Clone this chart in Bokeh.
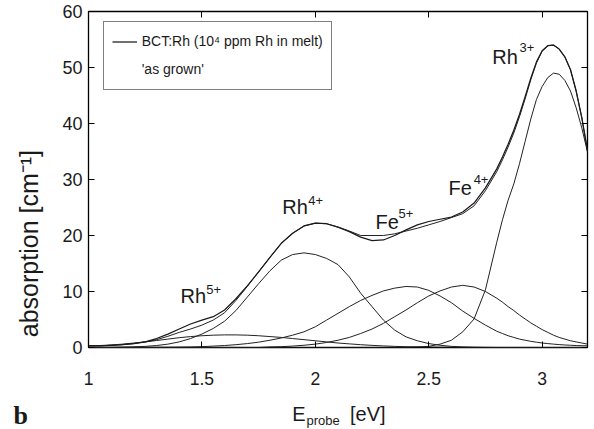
from bokeh.plotting import figure
from bokeh.models import (Range1d, LinearAxis, FixedTicker, Label, Legend,
                          LegendItem, ColumnDataSource, NumeralTickFormatter)
from bokeh.embed import file_html
from bokeh.resources import INLINE

# ---------------- data ----------------
energy = [1.00, 1.05, 1.10, 1.15, 1.20, 1.25, 1.30, 1.35, 1.40, 1.45,
          1.50, 1.55, 1.60, 1.65, 1.70, 1.75, 1.80, 1.85, 1.90, 1.95,
          2.00, 2.05, 2.10, 2.15, 2.20, 2.25, 2.30, 2.35, 2.40, 2.45,
          2.50, 2.55, 2.60, 2.65, 2.70, 2.75, 2.80,
          2.825, 2.85, 2.875, 2.90, 2.925, 2.95, 2.975, 3.00, 3.025,
          3.05, 3.075, 3.10, 3.125, 3.15, 3.175, 3.20]

measured = [0.3, 0.3, 0.4, 0.5, 0.7, 1.0, 1.6, 2.4, 3.3, 4.2,
            4.9, 5.5, 6.7, 8.7, 11.0, 13.5, 16.1, 18.6, 20.4, 21.7,
            22.2, 22.1, 21.5, 20.7, 19.7, 19.1, 19.2, 20.0, 21.0, 21.9,
            22.5, 22.9, 23.3, 24.2, 25.8, 28.5, 31.9,
            34.0, 36.3, 38.8, 41.6, 44.8, 48.1, 51.0, 53.0, 53.9,
            54.0, 53.3, 51.9, 49.6, 45.8, 41.0, 35.2]

fit_total = [0.3, 0.3, 0.4, 0.5, 0.7, 1.0, 1.4, 2.0, 2.7, 3.3,
             4.0, 4.9, 6.2, 8.4, 10.9, 13.5, 16.1, 18.6, 20.4, 21.7,
             22.2, 22.1, 21.5, 20.8, 20.0, 20.0, 20.0, 20.3, 20.8, 21.3,
             21.9, 22.5, 23.2, 23.9, 25.3, 28.0, 31.4,
             33.5, 35.8, 38.3, 41.2, 44.4, 47.8, 50.8, 52.9, 53.9,
             54.0, 53.3, 51.9, 49.6, 45.8, 41.0, 35.0]

rh5 = [0.3, 0.35, 0.45, 0.6, 0.8, 1.0, 1.25, 1.5, 1.75, 1.95,
       2.1, 2.2, 2.25, 2.25, 2.2, 2.1, 1.95, 1.8, 1.6, 1.4,
       1.2, 1.0, 0.8, 0.65, 0.5, 0.38, 0.28, 0.2, 0.14, 0.1,
       0.07, 0.05, 0.03, 0.02, 0.01, 0.0, 0.0,
       0.0, 0.0, 0.0, 0.0, 0.0, 0.0, 0.0, 0.0, 0.0,
       0.0, 0.0, 0.0, 0.0, 0.0, 0.0, 0.0]

rh4 = [0.0, 0.02, 0.05, 0.08, 0.12, 0.2, 0.35, 0.6, 1.0, 1.6,
       2.4, 3.4, 4.7, 6.6, 9.0, 11.4, 13.7, 15.6, 16.6, 16.9,
       16.6, 15.9, 14.8, 12.6, 9.7, 7.3, 4.9, 3.1, 1.9, 1.2,
       0.7, 0.4, 0.2, 0.1, 0.05, 0.02, 0.0,
       0.0, 0.0, 0.0, 0.0, 0.0, 0.0, 0.0, 0.0, 0.0,
       0.0, 0.0, 0.0, 0.0, 0.0, 0.0, 0.0]

fe5 = [0.0, 0.0, 0.0, 0.01, 0.02, 0.03, 0.04, 0.05, 0.07, 0.1,
       0.15, 0.25, 0.35, 0.5, 0.7, 0.95, 1.3, 1.7, 2.2, 2.8,
       3.7, 4.9, 6.1, 7.3, 8.4, 9.3, 10.1, 10.6, 10.9, 10.8,
       10.2, 9.2, 8.0, 6.5, 5.2, 4.0, 2.9,
       2.5, 2.1, 1.8, 1.5, 1.3, 1.1, 0.95, 0.8, 0.7,
       0.6, 0.52, 0.45, 0.4, 0.35, 0.32, 0.3]

fe4 = [0.0, 0.0, 0.0, 0.0, 0.0, 0.0, 0.0, 0.0, 0.0, 0.0,
       0.0, 0.0, 0.0, 0.0, 0.0, 0.0, 0.1, 0.15, 0.25, 0.4,
       0.6, 0.9, 1.3, 1.8, 2.5, 3.3, 4.3, 5.5, 6.7, 8.0,
       9.2, 10.1, 10.8, 11.1, 10.8, 10.0, 8.8,
       8.1, 7.3, 6.6, 5.8, 5.1, 4.4, 3.8, 3.2, 2.7,
       2.2, 1.8, 1.5, 1.2, 1.0, 0.8, 0.6]

rh3 = [0.0, 0.0, 0.0, 0.0, 0.0, 0.0, 0.0, 0.0, 0.0, 0.0,
       0.0, 0.0, 0.0, 0.0, 0.0, 0.0, 0.0, 0.0, 0.0, 0.0,
       0.0, 0.0, 0.0, 0.0, 0.0, 0.0, 0.0, 0.0, 0.0, 0.1,
       0.2, 0.6, 1.3, 2.8, 5.1, 10.3, 18.8,
       22.8, 26.3, 29.2, 32.8, 36.8, 40.8, 44.3, 46.6, 48.2,
       49.0, 48.8, 47.7, 45.8, 42.8, 39.2, 34.9]

x_ticks = [1, 1.5, 2, 2.5, 3]
y_ticks = [0, 10, 20, 30, 40, 50, 60]
legend_text = ["BCT:Rh (10\u2074 ppm Rh in melt)", "'as grown'"]
NB = "\u00a0"
x_label_main = "E" + NB * 8 + "[eV]"
x_label_sub = "probe"
y_label = "absorption [cm\u207b\u00b9]"
panel_letter = "b"

# ---------------- figure ----------------
FONT = "Liberation Sans"
INK = "#1a1a1a"

p = figure(width=592, height=428, output_backend="svg", toolbar_location=None,
           x_range=Range1d(1, 3.2), y_range=Range1d(0, 60),
           min_border_left=88, min_border_right=5, min_border_top=11,
           min_border_bottom=81)
p.xgrid.visible = False
p.ygrid.visible = False
p.outline_line_color = "black"
p.outline_line_width = 1.3
p.background_fill_color = "white"
p.border_fill_color = "white"

for ax in (p.xaxis[0], p.yaxis[0]):
    ax.axis_line_color = None
    ax.major_tick_in = 6
    ax.major_tick_out = 0
    ax.minor_tick_line_color = None
    ax.major_tick_line_color = "black"
    ax.major_label_text_font = FONT
    ax.major_label_text_color = INK

p.xaxis[0].ticker = FixedTicker(ticks=x_ticks)
p.xaxis[0].formatter = NumeralTickFormatter(format="0.[0]")
p.xaxis[0].major_label_standoff = 24
p.xaxis[0].major_label_text_font_size = "17.5px"
p.yaxis[0].ticker = FixedTicker(ticks=y_ticks)
p.yaxis[0].major_label_standoff = 6
p.yaxis[0].major_label_text_font_size = "18px"

top_axis = LinearAxis(ticker=FixedTicker(ticks=x_ticks), major_tick_in=6,
                      major_tick_out=0, axis_line_color=None,
                      minor_tick_line_color=None,
                      major_label_text_font_size="1px",
                      major_label_text_color=None,
                      major_label_standoff=0)
p.add_layout(top_axis, "above")
right_axis = LinearAxis(ticker=FixedTicker(ticks=y_ticks), major_tick_in=6,
                        major_tick_out=0, axis_line_color=None,
                        minor_tick_line_color=None,
                        major_label_text_font_size="1px",
                        major_label_text_color=None,
                        major_label_standoff=0)
p.add_layout(right_axis, "right")

src = ColumnDataSource(dict(energy=energy, measured=measured, fit_total=fit_total,
                            rh5=rh5, rh4=rh4, fe5=fe5, fe4=fe4, rh3=rh3))

for col in ["rh5", "rh4", "fe5", "fe4", "rh3"]:
    p.line("energy", col, source=src, line_color="#222222", line_width=1)
p.line("energy", "fit_total", source=src, line_color="#222222", line_width=1)
r_meas = p.line("energy", "measured", source=src, line_color="#1a1a1a",
                line_width=1.25)
blank = p.line(x=[], y=[], line_alpha=0)

legend = Legend(items=[LegendItem(label=legend_text[0], renderers=[r_meas]),
                       LegendItem(label=legend_text[1], renderers=[blank])],
                location=(14.7, 257.3), orientation="vertical",
                border_line_color="black", border_line_width=1,
                background_fill_color="white", background_fill_alpha=1,
                label_text_font=FONT, label_text_font_size="14px",
                label_text_color=INK,
                glyph_width=25, glyph_height=23, label_height=23,
                label_standoff=5, padding=8, spacing=5, margin=0)
p.add_layout(legend)


def lab(x, y, text, size, angle=0.0, font=FONT, style="normal", place=None):
    l = Label(x=x, y=y, x_units="data", y_units="data", text=text,
              text_font=font, text_font_size=size,
              text_font_style=style, text_color=INK,
              text_align="left", text_baseline="alphabetic",
              angle=angle, angle_units="rad")
    if place is None:
        p.add_layout(l)
    else:
        p.add_layout(l, place)


# peak annotations (main text + raised charge)
for (ex, ey, name, sx, sy, charge) in [
        (1.406, 9.22, "Rh", 1.519, 10.38, "5+"),
        (1.854, 25.11, "Rh", 1.969, 26.32, "4+"),
        (2.265, 22.42, "Fe", 2.367, 23.87, "5+"),
        (2.587, 28.56, "Fe", 2.698, 30.03, "4+"),
        (2.780, 51.8, "Rh", 2.900, 53.6, "3+")]:
    lab(ex, ey, name, "20px")
    lab(sx, sy, charge, "13px")

# x axis label: E_probe [eV]  (side panel so it is not clipped by the frame)
lab(1.898, -11.79, x_label_main, "20px", place="below")
lab(1.961, -13.02, x_label_sub, "13px", place="below")

# y axis label and panel letter in the left panel
lab(0.738, 1.84, y_label, "25px", angle=1.5708, place="left")
lab(0.669, -12.15, panel_letter, "26px", font="Liberation Serif",
    style="bold", place="left")

open("out.html", "w").write(file_html(p, INLINE))
